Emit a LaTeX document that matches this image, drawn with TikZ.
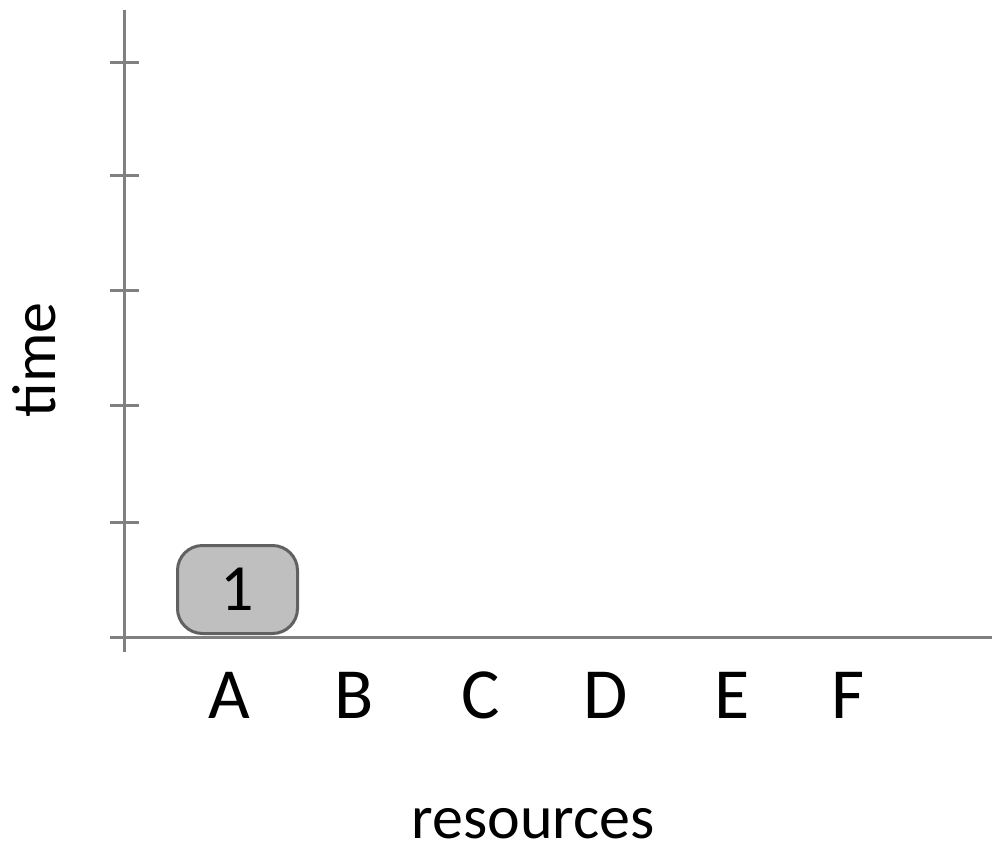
\documentclass[tikz,border=0pt]{standalone}
\usepackage{fontspec}
\setmainfont{Carlito}
\begin{document}
\begin{tikzpicture}[x=1pt,y=-1pt,
  axis/.style={draw=black!50,line width=3pt},
  job/.style={draw=black!62,line width=3pt,fill=black!25,rounded corners=25pt,minimum width=120pt,minimum height=88pt,inner sep=0pt,font=\fontsize{66}{70}\selectfont},
  lab/.style={font=\fontsize{72}{80}\selectfont,anchor=base},
  title/.style={font=\fontsize{62}{70}\selectfont,inner sep=0pt}]
\useasboundingbox (0,0) rectangle (992,848);
\coordinate (ytop) at (124,10);
\coordinate (ybot) at (124,652);
\coordinate (xl) at (110,637);
\coordinate (xr) at (992,637);
\draw[axis] (ytop) -- (ybot);
\draw[axis] (xl) -- (xr);
\foreach \t in {63,175,290,405,522}{
  \draw[axis] (110,\t) -- (139,\t);
}
\node[job] (j1) at (237.5,589.5) {1};
\node[lab] (lA) at (229,718) {A};
\node[lab] (lB) at (354,718) {B};
\node[lab] (lC) at (481,718) {C};
\node[lab] (lD) at (606,718) {D};
\node[lab] (lE) at (732,718) {E};
\node[lab] (lF) at (848,718) {F};
\node[title,anchor=base] (res) at (533,838) {resources};
\node[title,rotate=90] (tm) at (34,360) {time};
\end{tikzpicture}
\end{document}
